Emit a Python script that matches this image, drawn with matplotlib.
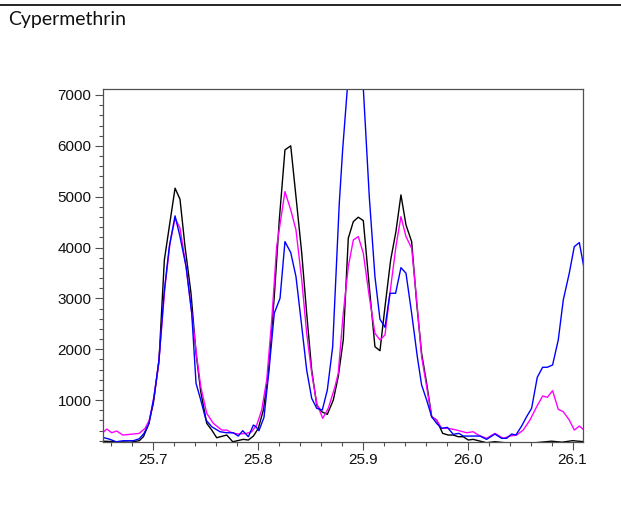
import matplotlib
matplotlib.use("Agg")
import matplotlib.pyplot as plt
from matplotlib.ticker import MultipleLocator

# ---- data (retention time in min, abundance) ----
black_x = [25.652, 25.6654, 25.6783, 25.6869, 25.6908, 25.6955, 25.7003, 25.7057, 25.7108,
           25.7155, 25.7210, 25.7257, 25.7305, 25.7362, 25.7410, 25.7455, 25.7512, 25.7560,
           25.7607, 25.7703, 25.7760, 25.7861, 25.7909, 25.7957, 25.8004, 25.8052, 25.8100,
           25.8156, 25.8204, 25.8258, 25.8313, 25.8363, 25.8418, 25.8465, 25.8513, 25.8561,
           25.8608, 25.8662, 25.8719, 25.8766, 25.8814, 25.8862, 25.8910, 25.8957, 25.9005,
           25.9062, 25.9116, 25.9164, 25.9212, 25.9266, 25.9316, 25.9364, 25.9412, 25.9466,
           25.9514, 25.9561, 25.9609, 25.9657, 25.9704, 25.9762, 25.9815, 25.9863, 25.9911,
           25.9958, 26.0006, 26.0053, 26.0101, 26.0181, 26.0260, 26.0400, 26.0600, 26.0800,
           26.0900, 26.1000, 26.1110]
black_y = [190, 180, 170, 200, 278, 508, 935, 1787, 3756,
           4411, 5167, 4951, 4018, 3100, 1919, 1163, 541, 409,
           258, 311, 179, 226, 213, 291, 443, 803, 1526,
           3034, 4543, 5921, 6000, 5002, 3888, 2707, 1590, 902,
           770, 718, 1000, 1459, 2181, 4183, 4510, 4596, 4530,
           3230, 2049, 1970, 2837, 3756, 4313, 5035, 4445, 4116,
           2903, 1919, 1329, 671, 606, 344, 311, 311, 278,
           278, 213, 226, 200, 160, 180, 150, 150, 190,
           170, 200, 180]

magenta_x = [25.652, 25.6559, 25.6606, 25.6654, 25.6711, 25.6812, 25.6869, 25.6924, 25.6965,
             25.7003, 25.7051, 25.7114, 25.7162, 25.7210, 25.7257, 25.7315, 25.7362, 25.7417,
             25.7455, 25.7512, 25.7575, 25.7655, 25.7703, 25.7750, 25.7813, 25.7893, 25.7941,
             25.7989, 25.8036, 25.8084, 25.8132, 25.8179, 25.8258, 25.8313, 25.8363, 25.8418,
             25.8465, 25.8513, 25.8561, 25.8618, 25.8671, 25.8735, 25.8766, 25.8814, 25.8862,
             25.8910, 25.8957, 25.9005, 25.9062, 25.9116, 25.9164, 25.9212, 25.9259, 25.9316,
             25.9364, 25.9412, 25.9466, 25.9514, 25.9561, 25.9609, 25.9657, 25.9704, 25.9752,
             25.9815, 25.9895, 25.9990, 26.0053, 26.0101, 26.0181, 26.0260, 26.0339, 26.0403,
             26.0467, 26.0530, 26.0594, 26.0658, 26.0715, 26.0759, 26.0810, 26.0864, 26.0912,
             26.0969, 26.1017, 26.1065, 26.1110]
magenta_y = [356, 429, 356, 390, 311, 331, 344, 443, 606,
             1000, 1656, 3230, 4085, 4577, 4380, 3624, 2837, 1852,
             1262, 738, 541, 409, 409, 356, 331, 344, 376,
             508, 803, 1394, 2575, 4018, 5100, 4740, 4346, 3362,
             2313, 1526, 935, 640, 837, 1262, 1526, 2707, 3624,
             4150, 4215, 3888, 3034, 2313, 2181, 2280, 3100, 4018,
             4608, 4215, 3986, 2969, 1852, 1262, 671, 606, 443,
             443, 409, 356, 376, 311, 246, 344, 246, 291,
             311, 409, 606, 868, 1079, 1053, 1183, 817, 770,
             606, 409, 488, 409]

blue_x = [25.652, 25.6590, 25.6647, 25.6717, 25.6812, 25.6869, 25.6914, 25.6962, 25.7010,
          25.7057, 25.7105, 25.7155, 25.7210, 25.7257, 25.7315, 25.7369, 25.7410, 25.7455,
          25.7505, 25.7560, 25.7639, 25.7703, 25.7765, 25.7813, 25.7855, 25.7909, 25.7957,
          25.7982, 25.8010, 25.8058, 25.8106, 25.8156, 25.8211, 25.8258, 25.8313, 25.8363,
          25.8411, 25.8465, 25.8513, 25.8561, 25.8614, 25.8662, 25.8713, 25.8776, 25.8808,
          25.8853, 25.8930, 25.9005, 25.9062, 25.9116, 25.9164, 25.9212, 25.9259, 25.9313,
          25.9364, 25.9412, 25.9466, 25.9520, 25.9561, 25.9609, 25.9657, 25.9704, 25.9752,
          25.9806, 25.9863, 25.9917, 25.9958, 26.0053, 26.0117, 26.0181, 26.0260, 26.0324,
          26.0372, 26.0419, 26.0460, 26.0515, 26.0562, 26.0610, 26.0664, 26.0715, 26.0759,
          26.0810, 26.0864, 26.0912, 26.0969, 26.1017, 26.1065, 26.1113]
blue_y = [266, 226, 179, 199, 199, 238, 344, 541, 1065,
          1787, 3100, 4018, 4622, 4215, 3624, 2707, 1329, 1000,
          606, 474, 376, 356, 356, 291, 396, 278, 508,
          474, 396, 659, 1590, 2707, 3002, 4116, 3900, 3427,
          2575, 1590, 1033, 837, 803, 1197, 2049, 4872, 5921,
          7136, 8600, 7136, 5002, 3427, 2588, 2431, 3100, 3100,
          3604, 3494, 2707, 1852, 1296, 1000, 671, 541, 443,
          462, 325, 344, 291, 291, 291, 226, 331, 246,
          246, 331, 311, 488, 671, 837, 1447, 1644, 1644,
          1689, 2181, 2969, 3494, 4018, 4097, 3559]

x_major = [25.7, 25.8, 25.9, 26.0, 26.1]
x_labels = ["25.7", "25.8", "25.9", "26.0", "26.1"]
y_major = [1000, 2000, 3000, 4000, 5000, 6000, 7000]
y_labels = ["1000", "2000", "3000", "4000", "5000", "6000", "7000"]
title = "Cypermethrin"

# ---- figure ----
W, H = 621, 523
fig = plt.figure(figsize=(W / 100, H / 100), dpi=100)
ax = fig.add_axes([102.7 / W, 1 - 441.7 / H, (583 - 102.7) / W, (441.7 - 89) / H])

ax.plot(black_x, black_y, color="#000000", lw=1.0)
ax.plot(magenta_x, magenta_y, color="#ff00ff", lw=1.0)
ax.plot(blue_x, blue_y, color="#0000ff", lw=1.0)

ax.set_xlim(25.652, 26.110)
ax.set_ylim(180, 7118)

ax.set_xticks(x_major)
ax.set_xticklabels(x_labels)
ax.set_yticks(y_major)
ax.set_yticklabels(y_labels)
ax.xaxis.set_minor_locator(MultipleLocator(0.02))
ax.yaxis.set_minor_locator(MultipleLocator(200))

spine_c = "#505050"
for s in ax.spines.values():
    s.set_color(spine_c)
    s.set_linewidth(0.9)

ax.tick_params(which="both", direction="out", color=spine_c, width=0.8,
               labelsize=11, labelcolor="#111111")
ax.tick_params(which="major", length=6, pad=2)
ax.tick_params(which="minor", length=3)
for lab in ax.get_xticklabels() + ax.get_yticklabels():
    lab.set_fontfamily("Liberation Sans")

# top rule and title
fig.add_artist(plt.Line2D([0, 1], [1 - 4.5 / H, 1 - 4.5 / H], color="black", lw=1.2,
                          transform=fig.transFigure))
fig.text(8 / W, 1 - 20 / H, title, fontsize=14, family="Lato", va="center", ha="left",
         color="#111111")

fig.savefig("out.png", dpi=100)
